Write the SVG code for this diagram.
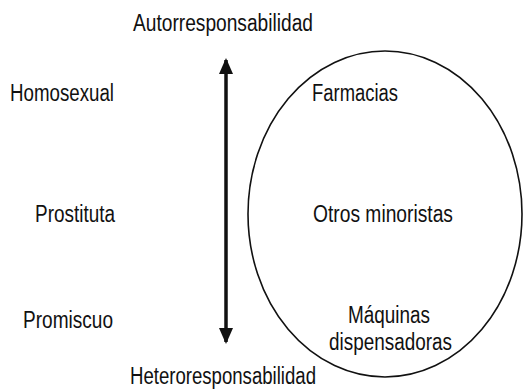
<svg xmlns="http://www.w3.org/2000/svg" width="523" height="390" viewBox="0 0 523 390">
<style>
text{font-family:"Liberation Sans Narrow","Liberation Sans",Arial,sans-serif;font-size:23px;fill:#111}
.ax{stroke:#111;stroke-width:3.5;fill:none}
.ell{stroke:#111;stroke-width:1.6;fill:none}
</style>
<defs>
<marker id="ah" markerUnits="userSpaceOnUse" markerWidth="16" markerHeight="14" refX="14" refY="7" orient="auto-start-reverse" viewBox="0 0 16 14">
<path d="M0,0 L16,7 L0,14 Z" fill="#111"/>
</marker>
</defs>
<rect width="523" height="390" fill="#fff"/>
<g id="connectors">
<line class="ax" x1="226" y1="60" x2="226" y2="342" marker-start="url(#ah)" marker-end="url(#ah)"/>
</g>
<g id="axis-top"><text x="133" y="31" textLength="180" lengthAdjust="spacingAndGlyphs">Autorresponsabilidad</text></g>
<g id="axis-bottom"><text x="130" y="384" textLength="186" lengthAdjust="spacingAndGlyphs">Heteroresponsabilidad</text></g>
<g id="homosexual"><text x="10" y="101" textLength="104" lengthAdjust="spacingAndGlyphs">Homosexual</text></g>
<g id="prostituta"><text x="35" y="222" textLength="80" lengthAdjust="spacingAndGlyphs">Prostituta</text></g>
<g id="promiscuo"><text x="23" y="328" textLength="90" lengthAdjust="spacingAndGlyphs">Promiscuo</text></g>
<g id="canales">
<ellipse class="ell" cx="385" cy="214" rx="137" ry="163"/>
<text x="312" y="101" textLength="86" lengthAdjust="spacingAndGlyphs">Farmacias</text>
<text x="313" y="222" textLength="140" lengthAdjust="spacingAndGlyphs">Otros minoristas</text>
<text x="348" y="323" textLength="82" lengthAdjust="spacingAndGlyphs">Máquinas</text>
<text x="329" y="350" textLength="123" lengthAdjust="spacingAndGlyphs">dispensadoras</text>
</g>
</svg>
